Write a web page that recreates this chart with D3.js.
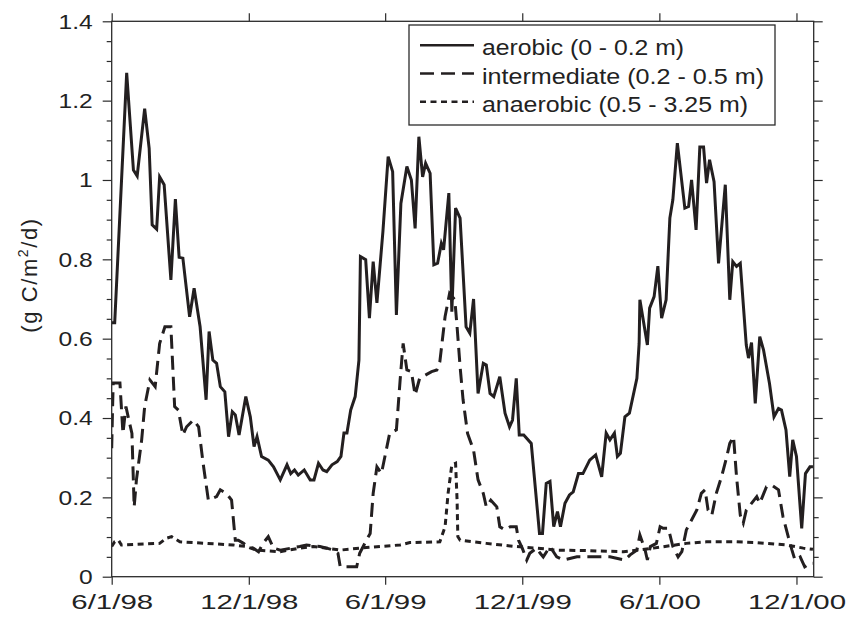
<!DOCTYPE html>
<html><head><meta charset="utf-8">
<script src="https://cdn.jsdelivr.net/npm/d3@7"></script>
<style>body{margin:0;background:#fff}svg{display:block}</style>
</head><body>
<svg id="chart" width="846" height="618"></svg>
<script>
// ---- data (days since 1 June 1998, flux in g C/m2/d) ----
const startDate = "6/1/98";
const endDate = "12/24/00";
const xTickLabels = ["6/1/98","12/1/98","6/1/99","12/1/99","6/1/00","12/1/00"];
const yTicks = [0,0.2,0.4,0.6,0.8,1,1.2,1.4];
const yTickLabels = ["0","0.2","0.4","0.6","0.8","1","1.2","1.4"];
const seriesNames = ["aerobic (0 - 0.2 m)","intermediate (0.2 - 0.5 m)","anaerobic (0.5 - 3.25 m)"];

const aerobicDay = [0,4,20,29,34,44,50,54,60,64,70,79,85,90,95,104,110,118,126,130,135,140,145,151,156,161,165,170,179,185,190,194,200,209,216,225,234,239,244,249,257,265,270,276,282,287,294,301,306,310,314,319,325,330,332,339,344,349,354,362,369,375,380,386,394,400,405,410,415,419,425,430,435,440,443,450,454,459,465,473,478,483,489,496,500,505,510,518,525,531,535,540,544,550,560,571,575,580,585,590,595,599,605,611,616,623,629,638,646,654,660,665,671,675,679,685,691,701,704,705,715,718,724,729,734,740,745,749,755,765,770,774,780,785,790,794,798,804,810,819,825,829,834,839,847,850,854,859,865,870,878,884,890,894,900,905,909,914,921,926,932,936];
const aerobicVal = [0.64,0.64,1.27,1.025,1.01,1.18,1.08,0.887,0.876,1.008,0.988,0.748,0.952,0.805,0.803,0.655,0.727,0.63,0.446,0.618,0.546,0.538,0.479,0.466,0.353,0.416,0.408,0.357,0.454,0.403,0.328,0.353,0.303,0.294,0.277,0.244,0.282,0.26,0.269,0.256,0.269,0.244,0.244,0.286,0.269,0.265,0.282,0.29,0.303,0.362,0.362,0.42,0.454,0.546,0.807,0.799,0.652,0.794,0.69,0.87,1.059,1.021,0.66,0.941,1.034,1.0,0.878,1.109,1.008,1.042,1.017,0.786,0.79,0.84,0.824,0.967,0.668,0.929,0.904,0.63,0.614,0.70,0.462,0.538,0.534,0.462,0.454,0.504,0.412,0.378,0.395,0.5,0.357,0.357,0.336,0.109,0.109,0.235,0.24,0.126,0.164,0.126,0.185,0.206,0.214,0.26,0.26,0.294,0.307,0.252,0.362,0.345,0.362,0.303,0.311,0.403,0.412,0.5,0.588,0.698,0.584,0.677,0.706,0.783,0.652,0.698,0.904,0.95,1.093,0.929,0.933,1.0,0.874,1.083,1.083,0.992,1.051,0.996,0.79,0.988,0.698,0.794,0.782,0.79,0.584,0.551,0.59,0.437,0.605,0.572,0.487,0.403,0.424,0.42,0.37,0.252,0.345,0.303,0.122,0.26,0.277,0.277];

const intermediateDay = [0,1,2,11,15,19,22,27,30,33,40,44,51,58,64,71,79,84,89,95,100,109,116,122,129,140,145,153,160,165,169,176,182,189,196,202,209,216,225,251,260,278,287,296,302,305,311,327,331,340,345,349,354,360,371,380,385,389,394,400,405,411,427,434,438,445,451,458,461,465,469,475,483,489,496,500,506,514,518,525,532,540,543,548,554,558,567,572,576,585,594,603,621,647,665,685,692,701,705,712,715,719,727,732,736,743,749,756,761,767,774,781,787,792,796,801,807,814,821,825,830,834,839,843,847,854,861,865,874,881,890,896,903,908,912,919,925,932,936];
const intermediateVal = [0.324,0.412,0.488,0.488,0.361,0.429,0.403,0.361,0.176,0.244,0.345,0.429,0.496,0.479,0.588,0.63,0.63,0.429,0.42,0.357,0.378,0.395,0.378,0.286,0.193,0.202,0.219,0.21,0.193,0.092,0.092,0.084,0.076,0.072,0.063,0.084,0.101,0.072,0.067,0.076,0.08,0.076,0.072,0.067,0.059,0.025,0.025,0.025,0.059,0.092,0.109,0.21,0.277,0.26,0.361,0.37,0.496,0.588,0.521,0.517,0.458,0.5,0.517,0.521,0.542,0.656,0.714,0.698,0.63,0.53,0.446,0.361,0.319,0.244,0.21,0.176,0.193,0.176,0.126,0.118,0.126,0.126,0.092,0.072,0.042,0.059,0.072,0.059,0.05,0.076,0.05,0.042,0.05,0.05,0.05,0.042,0.055,0.067,0.105,0.067,0.042,0.076,0.084,0.126,0.122,0.122,0.076,0.05,0.063,0.118,0.143,0.168,0.21,0.219,0.168,0.155,0.21,0.252,0.303,0.336,0.353,0.252,0.155,0.135,0.168,0.185,0.202,0.185,0.227,0.231,0.219,0.151,0.101,0.067,0.042,0.05,0.025,0.034,0.034];

const anaerobicDay = [0,4,9,13,64,73,80,91,162,180,193,225,251,269,287,305,331,385,398,438,445,449,454,459,461,462,465,500,540,567,594,629,683,723,767,794,834,861,901,923,936];
const anaerobicVal = [0.076,0.088,0.092,0.08,0.084,0.097,0.101,0.088,0.08,0.076,0.067,0.063,0.072,0.076,0.072,0.067,0.072,0.08,0.086,0.088,0.126,0.21,0.282,0.286,0.193,0.101,0.092,0.084,0.076,0.072,0.067,0.066,0.063,0.072,0.084,0.088,0.088,0.086,0.08,0.072,0.069];

// ---- layout ----
const svg = d3.select("#chart");
const L = 111.7, R = 813.7, T = 21.3, B = 576.7;
const ink = "#231f20", axisInk = "#2b2b2b";
const parse = d3.utcParse("%m/%d/%y");
const t0 = parse(startDate);
const x = d3.scaleUtc().domain([t0, parse(endDate)]).range([L, R]);
const y = d3.scaleLinear().domain([0, 1.4]).range([B, T]);
const toPts = (days, vals) => days.map((d, i) => [d3.utcDay.offset(t0, d), vals[i]]);
const line = d3.line().x(d => x(d[0])).y(d => y(d[1]));

const series = [
  {pts: toPts(aerobicDay, aerobicVal), dash: null},
  {pts: toPts(intermediateDay, intermediateVal), dash: "14,7"},
  {pts: toPts(anaerobicDay, anaerobicVal), dash: "6,4.5"}
];

const clip = svg.append("clipPath").attr("id","clip").append("rect")
  .attr("x", L).attr("y", T).attr("width", R - L).attr("height", B - T);

const g = svg.append("g").attr("clip-path","url(#clip)");
series.slice().reverse().forEach(s => {
  g.append("path").datum(s.pts).attr("d", line)
    .attr("fill","none").attr("stroke", ink).attr("stroke-width", 3)
    .attr("stroke-linejoin","miter").attr("stroke-miterlimit", 4)
    .attr("stroke-dasharray", s.dash);
});

// ---- axes ----
const xTickDates = xTickLabels.map(parse);
const minorY = d3.range(0, 1.4001, 0.05).filter(v => Math.abs(Math.round(v*5) - v*5) > 1e-6);
function styleAxis(sel){
  sel.select(".domain").remove();
  sel.selectAll("line").attr("stroke", axisInk).attr("stroke-width", 1.2);
  sel.selectAll("text").attr("fill", "#222").attr("font-family","'Liberation Sans', Arial, sans-serif").attr("font-size", 21);
}
svg.append("g").attr("transform",`translate(0,${B})`)
  .call(d3.axisBottom(x).tickValues(xTickDates).tickSize(8).tickPadding(9).tickFormat((d,i)=>xTickLabels[i]))
  .call(styleAxis)
  .call(s => s.selectAll("text").each(function(){ const w=this.getComputedTextLength(); d3.select(this).attr("textLength", w*1.4).attr("lengthAdjust","spacingAndGlyphs"); }));
svg.append("g").attr("transform",`translate(0,${T})`)
  .call(d3.axisTop(x).tickValues(xTickDates).tickSize(8).tickFormat(""))
  .call(styleAxis);
svg.append("g").attr("transform",`translate(${L},0)`)
  .call(d3.axisLeft(y).tickValues(yTicks).tickSize(9).tickPadding(10).tickFormat((d,i)=>yTickLabels[i]))
  .call(styleAxis)
  .call(s => s.selectAll("text").each(function(){ const w=this.getComputedTextLength(); d3.select(this).attr("textLength", w*1.17).attr("lengthAdjust","spacingAndGlyphs"); }));
svg.append("g").attr("transform",`translate(${L},0)`)
  .call(d3.axisLeft(y).tickValues(minorY).tickSize(5).tickFormat(""))
  .call(styleAxis);
svg.append("g").attr("transform",`translate(${R},0)`)
  .call(d3.axisRight(y).tickValues(yTicks).tickSize(9).tickFormat(""))
  .call(styleAxis);
svg.append("g").attr("transform",`translate(${R},0)`)
  .call(d3.axisRight(y).tickValues(minorY).tickSize(5).tickFormat(""))
  .call(styleAxis);

svg.append("rect").attr("x", L).attr("y", T).attr("width", R - L).attr("height", B - T)
  .attr("fill","none").attr("stroke", axisInk).attr("stroke-width", 1.3);

// ---- y-axis title ----
const yt = svg.append("text").attr("transform","translate(37,275) rotate(-90)")
  .attr("text-anchor","middle").attr("font-family","'Liberation Sans', Arial, sans-serif")
  .attr("font-size", 22).attr("fill","#222").attr("letter-spacing", 1.6);
yt.append("tspan").text("(g  C/m");
yt.append("tspan").attr("font-size", 14).attr("dy", -9).text("2");
yt.append("tspan").attr("dy", 9).text("/d)");

// ---- legend ----
const lg = svg.append("g");
lg.append("rect").attr("x", 409).attr("y", 25).attr("width", 366).attr("height", 100)
  .attr("fill","#fff").attr("stroke", axisInk).attr("stroke-width", 1.3);
const legendWidths = [202, 282, 266];
series.forEach((s, i) => {
  const cy = 45.3 + i * 28.2;
  lg.append("line").attr("x1", 420).attr("x2", 474).attr("y1", cy).attr("y2", cy)
    .attr("stroke", ink).attr("stroke-width", 2.4).attr("stroke-dasharray", s.dash);
  lg.append("text").attr("x", 482).attr("y", cy + 10).text(seriesNames[i])
    .attr("font-family","'Liberation Sans', Arial, sans-serif").attr("font-size", 22).attr("fill","#222")
    .attr("textLength", legendWidths[i]).attr("lengthAdjust","spacingAndGlyphs");
});
</script>
</body></html>
